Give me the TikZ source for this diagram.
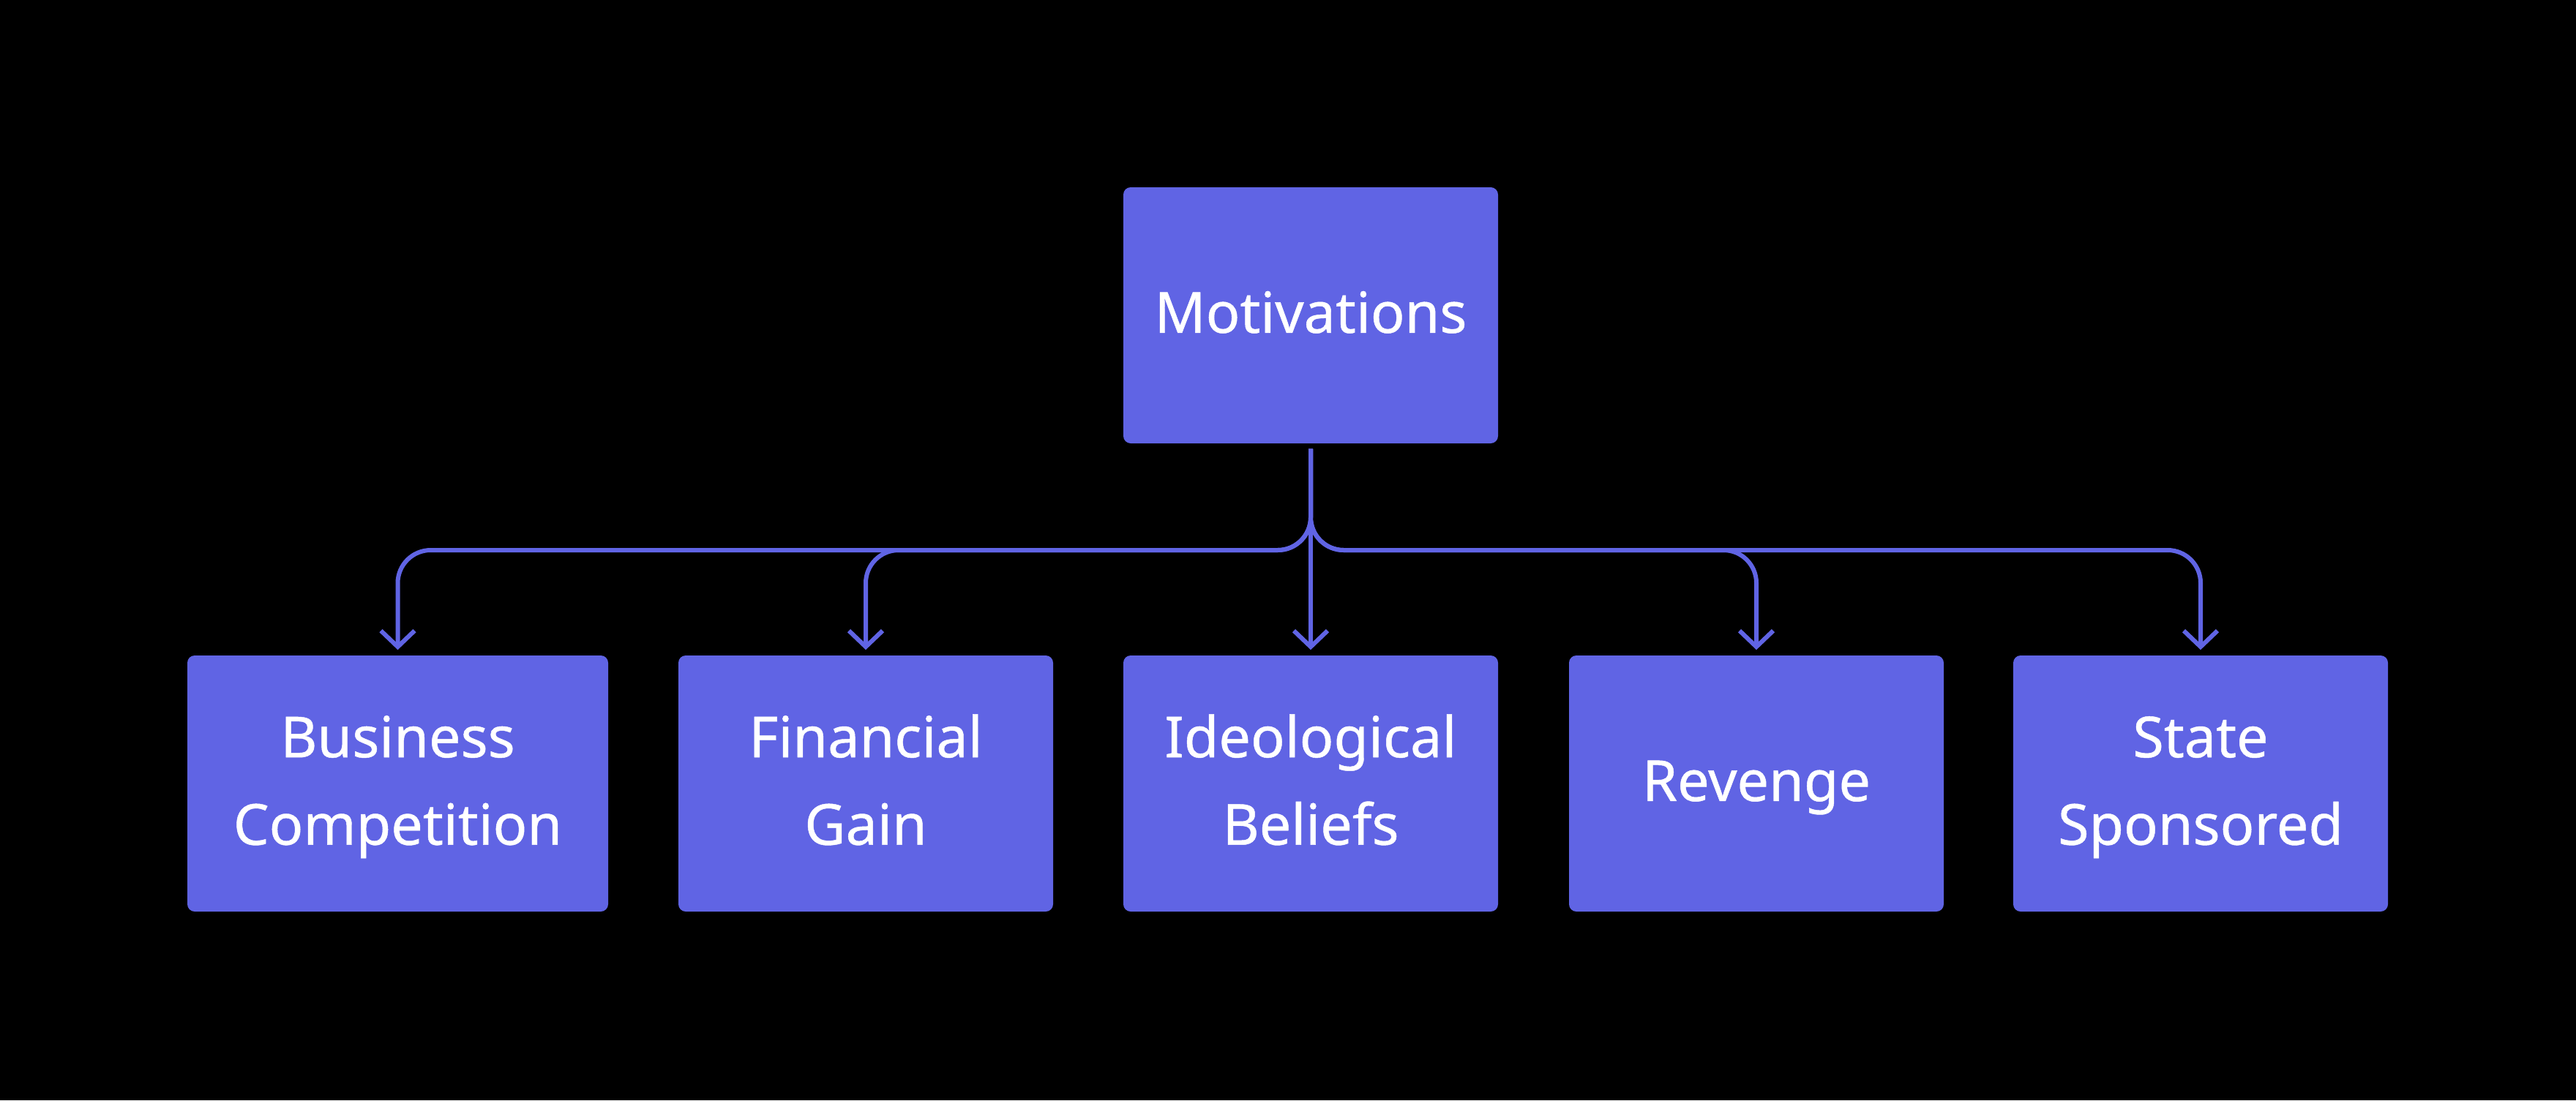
\documentclass[tikz,border=0pt]{standalone}
\usepackage{fontspec}
\setmainfont{Noto Sans}[FakeBold=0.6]
\usetikzlibrary{arrows.meta}
\definecolor{indigo}{HTML}{6064E4}
\begin{document}
\begin{tikzpicture}
  [racine/.style={
    fill=indigo,
    rectangle,
    rounded corners=0.1cm,
    inner sep=0,
    minimum width=5.12cm,
    minimum height=3.5cm,
    text=white,
    font=\fontsize{22}{34}\selectfont}, motif/.style={
    fill=indigo,
    rectangle,
    rounded corners=0.1cm,
    inner sep=0,
    minimum width=5.12cm,
    minimum height=3.5cm,
    text=white,
    font=\fontsize{22}{34}\selectfont}, fleche/.style={
    draw=indigo,
    line width=0.06cm,
    rounded corners=0.45cm,
    shorten <=0.07cm,
    shorten >=0.07cm,
    -{Straight Barb[length=0.22cm,width=0.46cm]}}]

  % fond noir
  \fill [black] (0,0) rectangle (35.2,-15.04);
  \useasboundingbox (0,0) rectangle (35.2,-15.04);

  \node [racine] at (17.91,-4.31) (motivations) {\strut Motivations};

  \node [motif, minimum width=5.75cm] at (5.435,-10.71) (business) {
  \begin{minipage}{5cm}
    \centering \strut Business\\\strut Competition
  \end{minipage}
  };

  \node [motif] at (11.83,-10.71) (financial) {
  \begin{minipage}{4.8cm}
    \centering \strut Financial\\\strut Gain
  \end{minipage}
  };

  \node [motif] at (17.91,-10.71) (ideological) {
  \begin{minipage}{4.8cm}
    \centering \strut Ideological\\\strut Beliefs
  \end{minipage}
  };

  \node [motif] at (24.0,-10.71) (revenge) {\strut Revenge};

  \node [motif] at (30.07,-10.71) (state) {
  \begin{minipage}{4.8cm}
    \centering \strut State\\\strut Sponsored
  \end{minipage}
  };

  \coordinate (branche) at (17.91,-7.52);

  \draw [fleche] (motivations.south) |- (business.north |- branche) -- (business.north);
  \draw [fleche] (motivations.south) |- (financial.north |- branche) -- (financial.north);
  \draw [fleche] (motivations) -- (ideological);
  \draw [fleche] (motivations.south) |- (revenge.north |- branche) -- (revenge.north);
  \draw [fleche] (motivations.south) |- (state.north |- branche) -- (state.north);
\end{tikzpicture}
\end{document}
